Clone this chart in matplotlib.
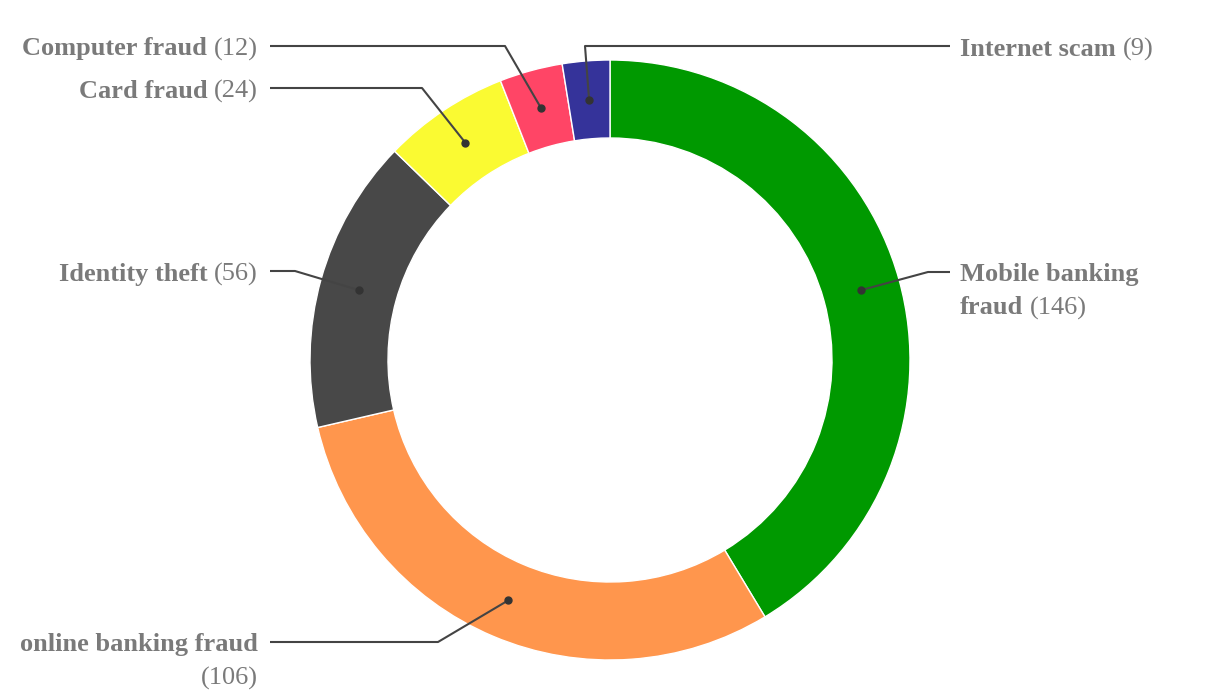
import numpy as np
import matplotlib
matplotlib.use("Agg")
import matplotlib.pyplot as plt

categories = ["Mobile banking fraud", "online banking fraud", "Identity theft",
              "Card fraud", "Computer fraud", "Internet scam"]
values = [146, 106, 56, 24, 12, 9]
colors = ["#009900", "#FF964D", "#484848", "#FAFA32", "#FF4566", "#35339A"]

# label layout (pixel coordinates, y from top): lines of segments
label_lines = [
    [[("Mobile banking", True)], [("fraud", True), ("(146)", False)]],
    [[("online banking fraud", True)], [("(106)", False)]],
    [[("Identity theft", True), ("(56)", False)]],
    [[("Card fraud", True), ("(24)", False)]],
    [[("Computer fraud", True), ("(12)", False)]],
    [[("Internet scam", True), ("(9)", False)]],
]
elbows = [(928, 272), (438, 642), (295, 271), (422, 88), (505, 46), (585, 46)]
line_ends = [950, 270, 270, 270, 270, 950]
text_x = [960, 258, 258, 258, 258, 960]
sides = ["left", "right", "right", "right", "right", "left"]

W, H = 1220, 700
fig = plt.figure(figsize=(W / 100, H / 100), dpi=100)
ax = fig.add_axes([0, 0, 1, 1])
ax.set_xlim(0, W)
ax.set_ylim(0, H)
ax.set_aspect("equal")
ax.axis("off")

cx, cy, R = 610, 360, 300
ring = 78
ax.pie(values, colors=colors, startangle=90, counterclock=False,
       center=(cx, H - cy), radius=R,
       wedgeprops=dict(width=ring, edgecolor="white", linewidth=1))
ax.set_xlim(0, W)
ax.set_ylim(0, H)

total = sum(values)
cum = np.cumsum([0] + values)
mid_r = R - ring / 2
fontname = "Liberation Serif"
fs = 19
gray = "#7a7a7a"
linec = "#444444"
fig.canvas.draw()
renderer = fig.canvas.get_renderer()

def text_width(s, bold):
    t = ax.text(0, 0, s, fontsize=fs, family=fontname,
                fontweight="bold" if bold else "normal")
    w = t.get_window_extent(renderer).width
    t.remove()
    return w

space = text_width("a b", False) - text_width("ab", False)

for i, v in enumerate(values):
    ang = np.deg2rad(90 - 360 * (cum[i] + v / 2) / total)
    dx = cx + mid_r * np.cos(ang)
    dy = (H - cy) + mid_r * np.sin(ang)
    ex, ey = elbows[i]
    ax.plot([dx, ex, line_ends[i]], [dy, H - ey, H - ey], color=linec, lw=1.5,
            solid_capstyle="butt")
    ax.plot([dx], [dy], "o", color="#333333", ms=5)
    for li, segs in enumerate(label_lines[i]):
        y = H - (ey + 3 + li * 33)
        widths = [text_width(s, b) for s, b in segs]
        tot = sum(widths) + space * (len(segs) - 1)
        x0 = text_x[i] if sides[i] == "left" else text_x[i] - tot
        x = x0
        for (s, b), w in zip(segs, widths):
            ax.text(x, y, s, fontsize=fs, family=fontname, color=gray,
                    fontweight="bold" if b else "normal", ha="left", va="center")
            x += w + space

fig.savefig("out.png", dpi=100)
